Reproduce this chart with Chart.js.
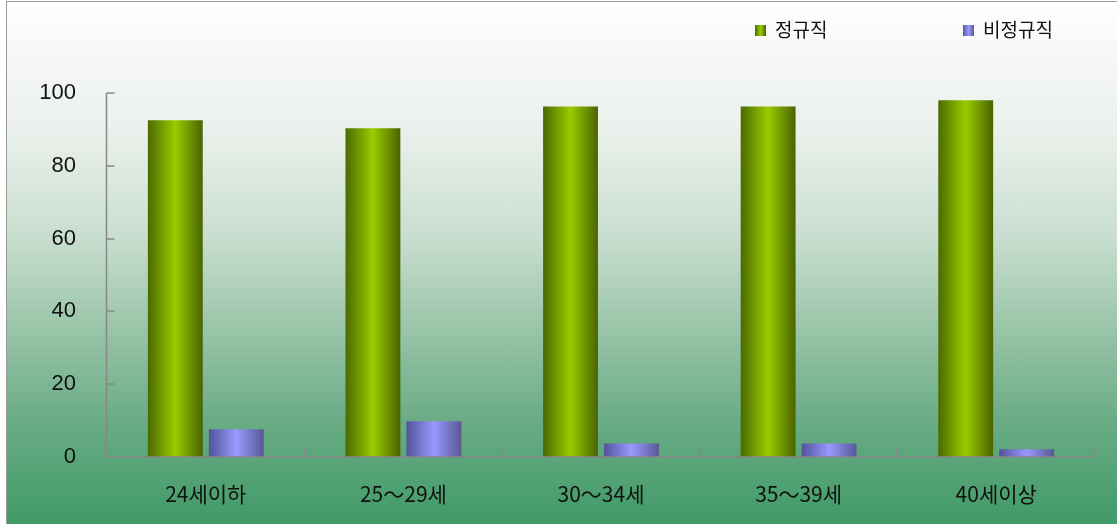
<!DOCTYPE html>
<html><head><meta charset="utf-8">
<script src="https://cdn.jsdelivr.net/npm/chart.js@4.4.0/dist/chart.umd.min.js"></script>
<style>
html,body{margin:0;padding:0;width:1117px;height:524px;overflow:hidden;background:#fff;}
#bg{position:absolute;left:6px;top:1px;width:1111px;height:523px;border-left:1px solid #9a9a9a;border-top:1px solid #9a9a9a;
background:linear-gradient(to bottom,#ffffff 0%,#f6f8f6 10%,#eaf0eb 25%,#c8decf 45%,#a0c8ad 60%,#6aac85 80%,#409a67 100%);}
#c{position:absolute;left:0;top:0;}
.leg{position:absolute;top:17px;height:24px;line-height:24px;font-family:"Noto Sans CJK KR","Noto Sans",sans-serif;font-size:19px;color:#111;white-space:nowrap;}
.leg i{display:inline-block;width:11px;height:11px;vertical-align:middle;margin-right:9px;position:relative;top:-1px;}
</style></head>
<body>
<div id="bg"></div>
<canvas id="c" width="1117" height="524"></canvas>
<div class="leg" style="left:755px"><i style="background:linear-gradient(to right,#4d6b00,#99cc00,#4a6600)"></i>정규직</div>
<div class="leg" style="left:963px"><i style="background:linear-gradient(to right,#55559a,#9999ff,#5a5a96)"></i>비정규직</div>
<script>
const categories = ['24세이하', '25～29세', '30～34세', '35～39세', '40세이상'];
const seriesNames = ['정규직', '비정규직'];
const regular = [92.5, 90.3, 96.3, 96.3, 98.0];
const nonRegular = [7.6, 9.8, 3.7, 3.7, 2.1];
const yTicks = [0, 20, 40, 60, 80, 100];

const palettes = [
  ['#4b6a00', '#99cc00', '#4a6400'],
  ['#52529a', '#9999ff', '#585894']
];

function barFill(ctx, idx) {
  const chart = ctx.chart;
  const meta = chart.getDatasetMeta(ctx.datasetIndex);
  const el = meta && meta.data[ctx.dataIndex];
  const p = palettes[idx];
  if (!el || !el.width) return p[1];
  const x0 = el.x - el.width / 2, x1 = el.x + el.width / 2;
  const g = chart.ctx.createLinearGradient(x0, 0, x1, 0);
  g.addColorStop(0, p[0]);
  g.addColorStop(0.5, p[1]);
  g.addColorStop(1, p[2]);
  return g;
}

const axesAndTicks = {
  id: 'axesAndTicks',
  afterDatasetsDraw(chart) {
    const c = chart.ctx, x = chart.scales.x, y = chart.scales.y;
    c.save();
    c.strokeStyle = '#888888';
    c.lineWidth = 1.5;
    c.beginPath();
    const ax = Math.round(x.left) - 0.5;
    const ay = Math.round(y.bottom);
    c.moveTo(ax, Math.round(y.top)); c.lineTo(ax, ay);
    c.lineTo(Math.round(x.right), ay);
    yTicks.forEach(v => {
      const py = Math.round(y.getPixelForValue(v));
      c.moveTo(ax, py); c.lineTo(ax + 8, py);
    });
    for (let i = 0; i <= categories.length; i++) {
      const px = Math.round(x.getPixelForValue(i - 0.5)) - 0.5;
      c.moveTo(px, ay); c.lineTo(px, ay - 9);
    }
    c.stroke();
    c.restore();
  }
};

const chart = new Chart(document.getElementById('c'), {
  type: 'bar',
  data: {
    labels: categories,
    datasets: [
      { label: seriesNames[0], data: regular, backgroundColor: ctx => barFill(ctx, 0) },
      { label: seriesNames[1], data: nonRegular, backgroundColor: ctx => barFill(ctx, 1) }
    ]
  },
  options: {
    responsive: false,
    animation: false,
    devicePixelRatio: 1,
    categoryPercentage: 0.617,
    barPercentage: 0.9,
    layout: { padding: { left: 0, top: 93, right: 22, bottom: 0 } },
    plugins: { legend: { display: false }, tooltip: { enabled: false } },
    scales: {
      x: {
        afterFit: s => { s.height = 67; },
        grid: { display: false, drawTicks: false },
        border: { display: false },
        ticks: { color: '#111', padding: 24, font: { family: '"Noto Sans CJK KR"', size: 21 } }
      },
      y: {
        min: 0, max: 100,
        afterFit: s => { s.width = 107; },
        afterBuildTicks: s => { s.ticks = yTicks.map(v => ({ value: v })); },
        grid: { display: false, drawTicks: false },
        border: { display: false },
        ticks: { color: '#111', padding: 31, font: { family: '"Liberation Sans"', size: 22 } }
      }
    }
  },
  plugins: [axesAndTicks]
});
chart.update();
</script>
</body></html>
